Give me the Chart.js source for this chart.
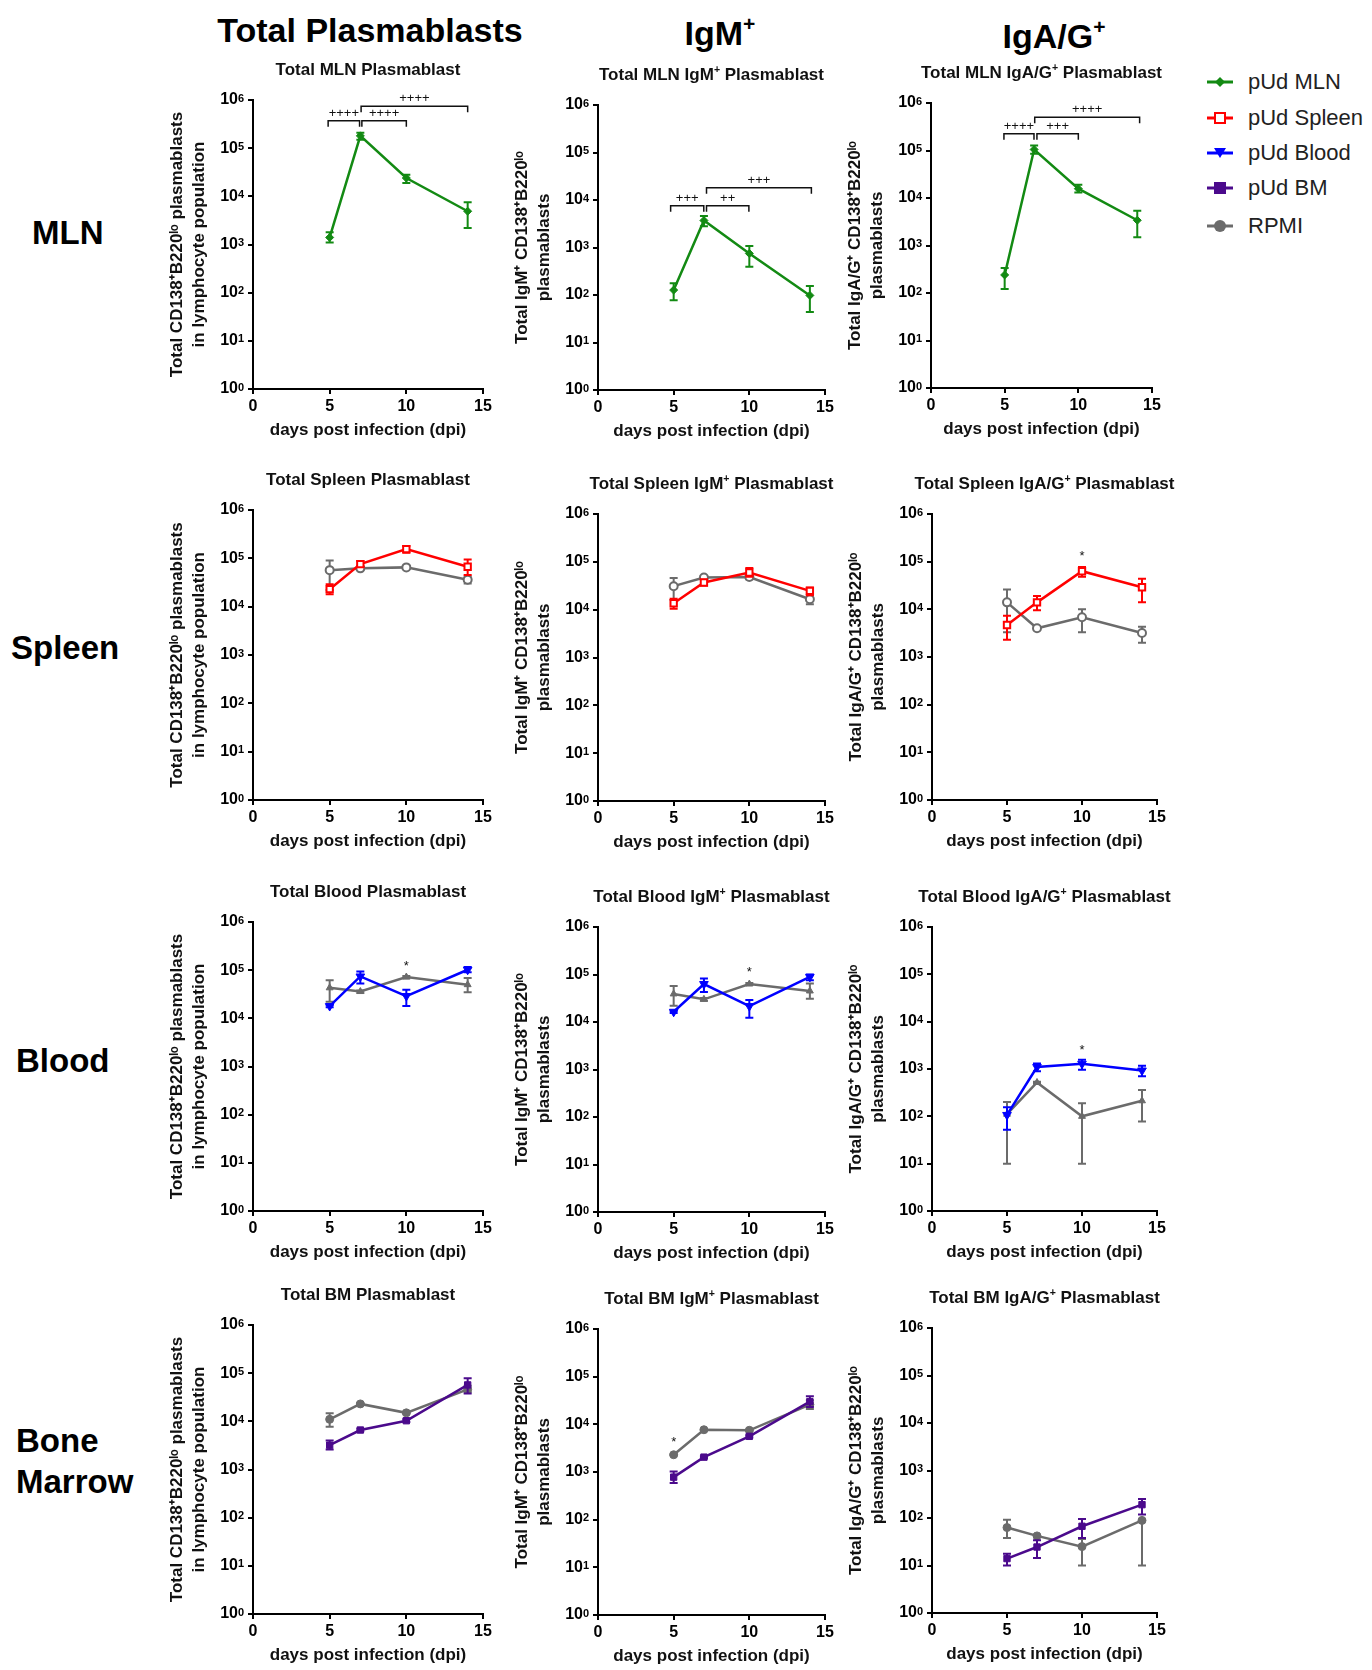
<!DOCTYPE html>
<html>
<head>
<meta charset="utf-8">
<title>Plasmablast kinetics</title>
<script src="https://cdn.jsdelivr.net/npm/chart.js@4.4.1/dist/chart.umd.min.js"></script>
<style>
  body { margin: 0; background: #fff; font-family: "Liberation Sans", Arial, sans-serif; }
  #page { position: relative; width: 1372px; height: 1670px; overflow: hidden; }
  .abs { position: absolute; white-space: nowrap; color: #000; }
  .head { font-weight: bold; font-size: 34px; transform: translate(-50%, -50%); }
  .rowlab { font-weight: bold; font-size: 33px; line-height: 41px; }
  .ptitle { font-weight: bold; font-size: 17px; line-height: 20px; color: #111; transform: translateX(-50%); }
  sup { font-size: 0.62em; line-height: 0; vertical-align: 0.62em; }
  .leg { position: absolute; left: 1207px; height: 24px; display: flex; align-items: center; font-size: 22px; color: #222; }
  .leg svg { margin-right: 15px; }
  canvas { position: absolute; }
</style>
</head>
<body>
<div id="page">
  <div class="abs head" style="left:370px; top:30px;">Total Plasmablasts</div>
  <div class="abs head" style="left:720px; top:33px;">IgM<sup>+</sup></div>
  <div class="abs head" style="left:1054px; top:36px;">IgA/G<sup>+</sup></div>

  <div class="abs rowlab" style="left:32px; top:212px;">MLN</div>
  <div class="abs rowlab" style="left:11px; top:627px;">Spleen</div>
  <div class="abs rowlab" style="left:16px; top:1040px;">Blood</div>
  <div class="abs rowlab" style="left:16px; top:1420px;">Bone<br>Marrow</div>

  <div class="leg" style="top:70px;"><svg width="26" height="16"><line x1="0" y1="8" x2="26" y2="8" stroke="#138a13" stroke-width="3"/><polygon points="13,3 18,8 13,13 8,8" fill="#138a13"/></svg>pUd MLN</div>
  <div class="leg" style="top:106px;"><svg width="26" height="16"><line x1="0" y1="8" x2="26" y2="8" stroke="#ff0000" stroke-width="3"/><rect x="8" y="3" width="10" height="10" fill="#fff" stroke="#ff0000" stroke-width="2"/></svg>pUd Spleen</div>
  <div class="leg" style="top:141px;"><svg width="26" height="16"><line x1="0" y1="8" x2="26" y2="8" stroke="#0000ff" stroke-width="3"/><polygon points="7,3 19,3 13,13" fill="#0000ff"/></svg>pUd Blood</div>
  <div class="leg" style="top:176px;"><svg width="26" height="16"><line x1="0" y1="8" x2="26" y2="8" stroke="#4b0a8c" stroke-width="3"/><rect x="7" y="2" width="12" height="12" fill="#4b0a8c"/></svg>pUd BM</div>
  <div class="leg" style="top:214px;"><svg width="26" height="16"><line x1="0" y1="8" x2="26" y2="8" stroke="#6b6b6b" stroke-width="3"/><circle cx="13" cy="8" r="6" fill="#6b6b6b"/></svg>RPMI</div>
</div>
<script>
// ---- data ----
const days = [5, 7, 10, 14];
const xTicks = [0, 5, 10, 15];
const yTicks = [1, 10, 100, 1000, 10000, 100000, 1000000];

// MLN row
const mlnTotal = [1400, 180000, 24000, 4900];
const mlnTotalErr = [[1100, 1800], [150000, 210000], [19000, 28000], [2200, 7500]];
const mlnTotalBrackets = [[4.9, 6.95, 370000, '++++'], [7.1, 10, 370000, '++++'], [7.05, 14, 740000, '++++']];

const mlnIgm = [127, 3700, 750, 98];
const mlnIgmErr = [[78, 176], [2800, 4600], [393, 1070], [44, 155]];
const mlnIgmBrackets = [[4.8, 6.99, 7600, '+++'], [7.17, 9.97, 7600, '++'], [7.17, 14.1, 18000, '+++']];

const mlnIga = [240, 105000, 15700, 3400];
const mlnIgaErr = [[121, 336], [85000, 128000], [13000, 19000], [1500, 5400]];
const mlnIgaBrackets = [[4.95, 6.99, 226000, '++++'], [7.19, 10, 226000, '+++'], [7.04, 14.16, 500000, '++++']];

// Spleen row
const spleenTotal = [23000, 76000, 155000, 67000];
const spleenTotalErr = [[18000, 29000], [67000, 88000], [130000, 180000], [45000, 95000]];
const spleenTotalRpmi = [57000, 62000, 65000, 36000];
const spleenTotalRpmiErr = [[22000, 90000], [58000, 66000], [61000, 70000], [30000, 42000]];

const spleenIgm = [13600, 37000, 60000, 24700];
const spleenIgmErr = [[10400, 17000], [32000, 42000], [49000, 74000], [20000, 29000]];
const spleenIgmRpmi = [31000, 47000, 48000, 16500];
const spleenIgmRpmiErr = [[16000, 46000], [44000, 50000], [43000, 54000], [13000, 20000]];

const spleenIga = [4700, 14000, 63000, 29000];
const spleenIgaErr = [[2300, 7300], [9600, 19000], [48000, 77000], [14000, 44000]];
const spleenIgaRpmi = [14000, 4000, 6800, 3200];
const spleenIgaRpmiErr = [[3300, 26000], [3800, 4200], [3300, 10000], [2000, 4300]];
const spleenIgaStars = [[10, 126000]];

// Blood row
const bloodTotal = [18000, 74000, 29000, 102000];
const bloodTotalErr = [[17000, 19000], [53000, 94000], [18000, 39000], [90000, 116000]];
const bloodTotalRpmi = [43000, 36000, 72000, 50000];
const bloodTotalRpmiErr = [[22000, 62000], [34000, 38000], [68000, 76000], [35000, 69000]];
const bloodTotalStars = [[10, 120000]];

const bloodIgm = [16400, 63000, 21600, 89000];
const bloodIgmErr = [[15500, 17000], [43000, 82000], [12300, 29000], [76000, 100000]];
const bloodIgmRpmi = [39000, 30000, 63000, 45000];
const bloodIgmRpmiErr = [[22000, 57000], [28000, 32000], [60000, 66000], [31000, 65000]];
const bloodIgmStars = [[10, 108000]];

const bloodIga = [107, 1100, 1290, 930];
const bloodIgaErr = [[52, 156], [900, 1300], [960, 1560], [700, 1170]];
const bloodIgaRpmi = [111, 519, 100, 213];
const bloodIgaRpmiErr = [[10, 200], [500, 540], [10, 190], [78, 360]];
const bloodIgaStars = [[10, 2500]];

// Bone marrow row
const bmTotal = [3200, 6600, 10300, 57000];
const bmTotalErr = [[2600, 4000], [6200, 7000], [9700, 11000], [38000, 78000]];
const bmTotalRpmi = [11000, 23000, 15000, 46000];
const bmTotalRpmiErr = [[7700, 14700], [22000, 24000], [14500, 15500], [40000, 55000]];

const bmIgm = [780, 2050, 5600, 30000];
const bmIgmErr = [[585, 1020], [1950, 2150], [5300, 5900], [23000, 39000]];
const bmIgmRpmi = [2300, 7700, 7500, 26000];
const bmIgmRpmiErr = [[2250, 2350], [7500, 7900], [7300, 7700], [21000, 32000]];
const bmIgmStars = [[5, 4200]];

const bmIga = [14, 24.5, 67, 191];
const bmIgaErr = [[10, 17.7], [14.4, 34], [38, 95], [118, 251]];
const bmIgaRpmi = [63, 42, 25, 89];
const bmIgaRpmiErr = [[38, 92], [40, 44], [10, 36], [10, 92]];

// ---- styles and layout ----
const FONT = '"Liberation Sans", Arial, sans-serif';
const GREY = '#6b6b6b';
const STY = {
  mln:    { label: 'pUd MLN', color: '#138a13', style: 'rectRot', r: 4, fill: true },
  spleen: { label: 'pUd Spleen', color: '#ff0000', style: 'rect', r: 4.5, fill: false },
  blood:  { label: 'pUd Blood', color: '#0000ff', style: 'triangle', rot: 180, r: 5, fill: true },
  bm:     { label: 'pUd BM', color: '#4b0a8c', style: 'rect', r: 4.5, fill: true },
  rpmiO:  { label: 'RPMI', color: GREY, style: 'circle', r: 4, fill: false },
  rpmiT:  { label: 'RPMI', color: GREY, style: 'triangle', r: 4, fill: true },
  rpmiC:  { label: 'RPMI', color: GREY, style: 'circle', r: 4, fill: true },
};
const yTitles = [
  ['Total CD138\u207AB220\u02E1\u1D52 plasmablasts', 'in lymphocyte population'],
  ['Total IgM\u207A CD138\u207AB220\u02E1\u1D52', 'plasmablasts'],
  ['Total IgA/G\u207A CD138\u207AB220\u02E1\u1D52', 'plasmablasts'],
];

// plot area [left, right, top, bottom] in page pixels
const frames = [
  [253, 483, 100, 389], [598, 825, 105, 390], [931, 1152, 103, 388],
  [253, 483, 510, 800], [598, 825, 514, 801], [932, 1157, 514, 800],
  [253, 483, 922, 1211], [598, 825, 927, 1212], [932, 1157, 927, 1211],
  [253, 483, 1325, 1614], [598, 825, 1329, 1615], [932, 1157, 1328, 1613],
];

const panels = [
  { title: 'Total MLN Plasmablast', series: [['mln', mlnTotal, mlnTotalErr]], brackets: mlnTotalBrackets },
  { title: 'Total MLN IgM<sup>+</sup> Plasmablast', series: [['mln', mlnIgm, mlnIgmErr]], brackets: mlnIgmBrackets },
  { title: 'Total MLN IgA/G<sup>+</sup> Plasmablast', series: [['mln', mlnIga, mlnIgaErr]], brackets: mlnIgaBrackets },
  { title: 'Total Spleen Plasmablast', series: [['spleen', spleenTotal, spleenTotalErr], ['rpmiO', spleenTotalRpmi, spleenTotalRpmiErr]] },
  { title: 'Total Spleen IgM<sup>+</sup> Plasmablast', series: [['spleen', spleenIgm, spleenIgmErr], ['rpmiO', spleenIgmRpmi, spleenIgmRpmiErr]] },
  { title: 'Total Spleen IgA/G<sup>+</sup> Plasmablast', series: [['spleen', spleenIga, spleenIgaErr], ['rpmiO', spleenIgaRpmi, spleenIgaRpmiErr]], stars: spleenIgaStars },
  { title: 'Total Blood Plasmablast', series: [['blood', bloodTotal, bloodTotalErr], ['rpmiT', bloodTotalRpmi, bloodTotalRpmiErr]], stars: bloodTotalStars },
  { title: 'Total Blood IgM<sup>+</sup> Plasmablast', series: [['blood', bloodIgm, bloodIgmErr], ['rpmiT', bloodIgmRpmi, bloodIgmRpmiErr]], stars: bloodIgmStars },
  { title: 'Total Blood IgA/G<sup>+</sup> Plasmablast', series: [['blood', bloodIga, bloodIgaErr], ['rpmiT', bloodIgaRpmi, bloodIgaRpmiErr]], stars: bloodIgaStars },
  { title: 'Total BM Plasmablast', series: [['bm', bmTotal, bmTotalErr], ['rpmiC', bmTotalRpmi, bmTotalRpmiErr]] },
  { title: 'Total BM IgM<sup>+</sup> Plasmablast', series: [['bm', bmIgm, bmIgmErr], ['rpmiC', bmIgmRpmi, bmIgmRpmiErr]], stars: bmIgmStars },
  { title: 'Total BM IgA/G<sup>+</sup> Plasmablast', series: [['bm', bmIga, bmIgaErr], ['rpmiC', bmIgaRpmi, bmIgaRpmiErr]] },
];

// error bars under each dataset
const errorBars = {
  id: 'errorBars',
  beforeDatasetDraw(chart, args) {
    const ds = chart.data.datasets[args.index];
    if (!ds.err) return;
    const ctx = chart.ctx, ys = chart.scales.y;
    ctx.save();
    ctx.strokeStyle = ds.borderColor;
    ctx.lineWidth = 2;
    args.meta.data.forEach((pt, i) => {
      const e = ds.err[i];
      if (!e) return;
      const y1 = ys.getPixelForValue(e[0]), y2 = ys.getPixelForValue(e[1]);
      ctx.beginPath();
      ctx.moveTo(pt.x, y1); ctx.lineTo(pt.x, y2);
      ctx.moveTo(pt.x - 4, y1); ctx.lineTo(pt.x + 4, y1);
      ctx.moveTo(pt.x - 4, y2); ctx.lineTo(pt.x + 4, y2);
      ctx.stroke();
    });
    ctx.restore();
  }
};

// exponent of the "10" tick labels, significance brackets and stars
function marks(brackets, stars) {
  return {
    id: 'marks',
    afterDraw(chart) {
      const ctx = chart.ctx, xs = chart.scales.x, ys = chart.scales.y;
      ctx.save();
      ctx.fillStyle = '#000';
      ctx.font = 'bold 11px ' + FONT;
      ctx.textAlign = 'left';
      ctx.textBaseline = 'top';
      ys.ticks.forEach(t => {
        ctx.fillText(String(Math.round(Math.log10(t.value))), ys.right - 15, ys.getPixelForValue(t.value) - 7);
      });

      ctx.strokeStyle = '#111';
      ctx.fillStyle = '#111';
      ctx.lineWidth = 1.5;
      ctx.textAlign = 'center';
      (brackets || []).forEach(([x1, x2, yv, label]) => {
        const a = xs.getPixelForValue(x1), b = xs.getPixelForValue(x2), y = ys.getPixelForValue(yv);
        ctx.beginPath();
        ctx.moveTo(a, y + 6); ctx.lineTo(a, y); ctx.lineTo(b, y); ctx.lineTo(b, y + 6);
        ctx.stroke();
        ctx.font = '13px ' + FONT;
        ctx.textBaseline = 'bottom';
        ctx.fillText(label, (a + b) / 2, y - 1);
      });
      (stars || []).forEach(([xv, yv]) => {
        ctx.font = '13px ' + FONT;
        ctx.textBaseline = 'middle';
        ctx.fillText('*', xs.getPixelForValue(xv), ys.getPixelForValue(yv));
      });
      ctx.restore();
    }
  };
}

const YW = 86, TOP = 22, RIGHT = 16, XH = 52;
const page = document.getElementById('page');
const tickFont = { family: FONT, size: 16, weight: 'bold' };
const titleFont = { family: FONT, size: 17, weight: 'bold', lineHeight: 1.25 };

panels.forEach((p, k) => {
  const [l, r, t, b] = frames[k];
  const col = k % 3;
  const cv = document.createElement('canvas');
  cv.width = YW + (r - l) + RIGHT;
  cv.height = TOP + (b - t) + XH;
  cv.style.left = (l - YW) + 'px';
  cv.style.top = (t - TOP) + 'px';
  page.appendChild(cv);

  const tt = document.createElement('div');
  tt.className = 'abs ptitle';
  tt.style.left = ((l + r) / 2) + 'px';
  tt.style.top = (t - 40) + 'px';
  tt.innerHTML = p.title;
  page.appendChild(tt);

  new Chart(cv, {
    type: 'line',
    data: {
      datasets: p.series.map(([key, vals, err]) => {
        const s = STY[key];
        return {
          label: s.label,
          data: days.map((d, i) => ({ x: d, y: vals[i] })),
          err: err,
          borderColor: s.color,
          backgroundColor: s.color,
          borderWidth: 2.5,
          pointStyle: s.style,
          pointRotation: s.rot || 0,
          pointRadius: s.r,
          pointBackgroundColor: s.fill ? s.color : '#fff',
          pointBorderColor: s.color,
          pointBorderWidth: s.fill ? 1 : 2,
          tension: 0,
          fill: false,
        };
      })
    },
    options: {
      responsive: false,
      animation: false,
      devicePixelRatio: 1,
      events: [],
      layout: { padding: { top: TOP, right: RIGHT, left: 0, bottom: 0 } },
      plugins: { legend: { display: false }, tooltip: { enabled: false } },
      scales: {
        x: {
          type: 'linear', min: 0, max: 15,
          afterBuildTicks: s => { s.ticks = xTicks.map(v => ({ value: v })); },
          afterFit: s => { s.height = XH; },
          border: { color: '#000', width: 2 },
          grid: { drawOnChartArea: false, drawTicks: true, tickLength: 5, color: '#000', lineWidth: 2 },
          ticks: { color: '#000', font: tickFont, padding: 3, maxRotation: 0 },
          title: { display: true, text: 'days post infection (dpi)', color: '#111', font: titleFont, padding: 0 }
        },
        y: {
          type: 'logarithmic', min: 1, max: 1000000,
          afterBuildTicks: s => { s.ticks = yTicks.map(v => ({ value: v })); },
          afterFit: s => { s.width = YW; },
          border: { color: '#000', width: 2 },
          grid: { drawOnChartArea: false, drawTicks: true, tickLength: 5, color: '#000', lineWidth: 2 },
          ticks: { color: '#000', font: tickFont, padding: 10, callback: () => '10' },
          title: { display: true, text: yTitles[col], color: '#111', font: titleFont, padding: 0 }
        }
      }
    },
    plugins: [errorBars, marks(p.brackets, p.stars)]
  });
});
</script>
</body>
</html>
